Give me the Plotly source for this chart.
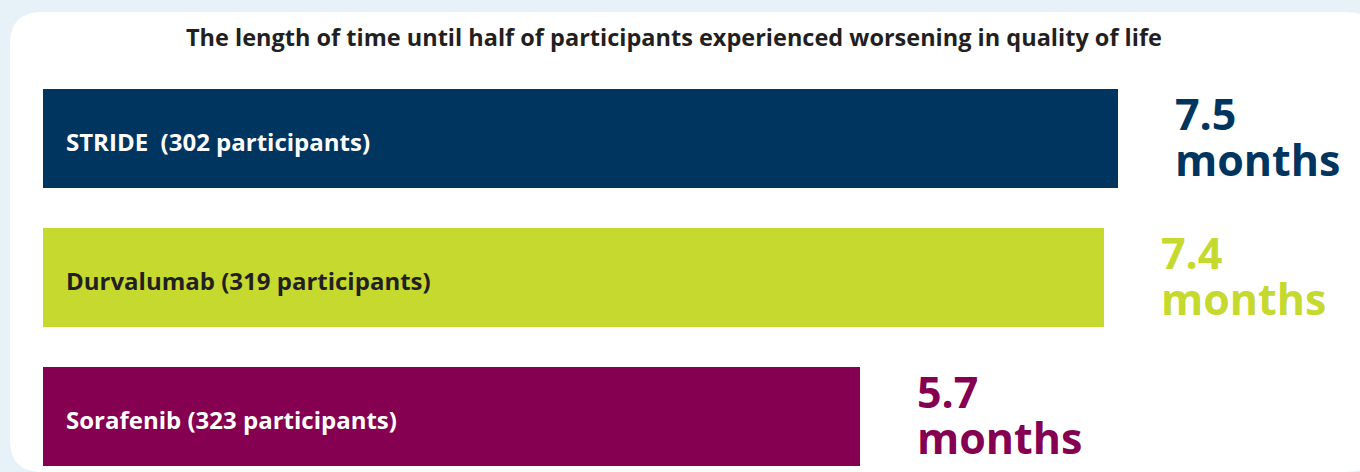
import plotly.graph_objects as go

# ---- data ----
categories = ["STRIDE", "Durvalumab", "Sorafenib"]
participants = [302, 319, 323]
months = [7.5, 7.4, 5.7]
bar_labels = ["STRIDE\u00a0\u00a0(302 participants)",
              "Durvalumab (319 participants)",
              "Sorafenib (323 participants)"]
value_labels = ["7.5", "7.4", "5.7"]
unit_label = "months"
title_text = "The length of time until half of participants experienced worsening in quality of life"

# ---- styles ----
colors = ["#00355f", "#c5d92f", "#850051"]
label_colors = ["#ffffff", "#231f20", "#ffffff"]
FONT = "Open Sans"
W, H = 1360, 472

fig = go.Figure()
fig.add_trace(go.Bar(
    x=months, y=list(range(len(categories))), orientation="h",
    marker=dict(color=colors, line=dict(width=0)),
    width=0.712, hoverinfo="skip", showlegend=False,
))

annotations = []
# title
annotations.append(dict(
    text=title_text, xref="paper", yref="paper", x=674 / W, y=1 - 37 / H,
    xanchor="center", yanchor="middle", showarrow=False,
    font=dict(family=FONT, size=23.5, color="#231f20", weight=700),
))
for i, (m, bl, vl) in enumerate(zip(months, bar_labels, value_labels)):
    annotations.append(dict(
        text=bl, x=0, y=i, xref="x", yref="y", xanchor="left", yanchor="middle",
        xshift=21, yshift=-3, showarrow=False,
        font=dict(family=FONT, size=24, color=label_colors[i], weight=700),
    ))
    annotations.append(dict(
        text=vl, x=m, y=i, xref="x", yref="y", xanchor="left", yanchor="middle",
        xshift=55, yshift=25, showarrow=False,
        font=dict(family=FONT, size=43, color=colors[i], weight=700),
    ))
    annotations.append(dict(
        text=unit_label, x=m, y=i, xref="x", yref="y", xanchor="left", yanchor="middle",
        xshift=55, yshift=-21, showarrow=False,
        font=dict(family=FONT, size=43, color=colors[i], weight=700),
    ))

# card (rounded white rectangle) in paper coordinates
def px(x):
    return x / W

def py(y):
    return 1 - y / H

L, T, R, B, r = 10, 12, 1378, 472, 32
path = (f"M {px(L + r)} {py(T)} L {px(R - r)} {py(T)} "
        f"Q {px(R)} {py(T)} {px(R)} {py(T + r)} "
        f"L {px(R)} {py(B - r)} Q {px(R)} {py(B)} {px(R - r)} {py(B)} "
        f"L {px(L + r)} {py(B)} Q {px(L)} {py(B)} {px(L)} {py(B - r)} "
        f"L {px(L)} {py(T + r)} Q {px(L)} {py(T)} {px(L + r)} {py(T)} Z")

fig.update_layout(
    width=W, height=H,
    margin=dict(l=0, r=0, t=0, b=0, pad=0),
    paper_bgcolor="#e6f1f8", plot_bgcolor="rgba(0,0,0,0)",
    shapes=[dict(type="path", path=path, xref="paper", yref="paper",
                 fillcolor="#ffffff", line=dict(width=0), layer="below")],
    annotations=annotations,
    xaxis=dict(range=[-43 / 143.33, (W - 43) / 143.33], visible=False, fixedrange=True),
    yaxis=dict(range=[2 + (H - 416.5) / 139, -138.5 / 139], visible=False, fixedrange=True),
    bargap=0,
)

fig.write_html(
    "out.html",
    config={"displayModeBar": False},
    post_script="document.body.style.margin='0';document.body.style.overflow='hidden';",
)
